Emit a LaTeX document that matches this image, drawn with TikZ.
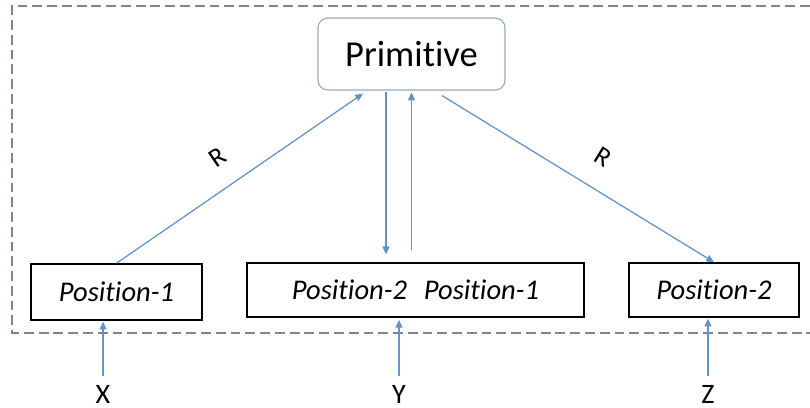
\documentclass[tikz,border=0pt]{standalone}
\usepackage{fontspec}
\setmainfont{Carlito}[Ligatures=NoCommon]
\usetikzlibrary{arrows.meta,calc}
\definecolor{lienbleu}{RGB}{98,148,198}
\definecolor{cadregris}{RGB}{120,134,150}
\definecolor{primgris}{RGB}{150,170,190}
\def\pxl{0.025cm}
\begin{document}
\begin{tikzpicture}[x=\pxl,y=-\pxl,
  boite/.style={draw=black,line width=1.1pt,inner sep=0pt,font=\fontsize{20.3}{24}\selectfont\itshape},
  lien/.style={draw=lienbleu,line width=0.9pt,-{Triangle[length=5.5pt,width=5pt]}},
  lettre/.style={inner sep=0pt,font=\fontsize{20}{24}\selectfont},
  etiq/.style={inner sep=0pt,font=\fontsize{19}{22}\selectfont}]
\useasboundingbox (0,0) rectangle (810,408);

% Cadre
\draw[cadregris,line width=0.8pt,dash pattern=on 7pt off 3.5pt] (810,6) -- (12,6) -- (12,333) -- (810,333);

% Boites
\node[draw=primgris,line width=0.8pt,rounded corners=7pt,minimum width=187*\pxl,minimum height=72*\pxl,font=\fontsize{26}{30}\selectfont] (prim) at (411.5,54) {Primitive};
\node[boite,minimum width=171*\pxl,minimum height=56*\pxl] (pos1) at (116.5,292) {Position-1};
\node[boite,minimum width=337*\pxl,minimum height=54*\pxl] (pos21) at (415.5,290) {Position-2\hspace{12pt}Position-1};
\node[boite,minimum width=170*\pxl,minimum height=54*\pxl] (pos2) at (714,290) {Position-2};

% Entrees
\node[lettre] (entX) at (103,394) {X};
\node[lettre] (entY) at (399,394) {Y};
\node[lettre] (entZ) at (708,394) {Z};

% Liens
\draw[lien] (pos1.north) -- ($(prim.south)+(-48.5,3)$) node[etiq,pos=0.48,sloped,above=15pt] (r1) {R};
\draw[lien,shorten >=5.7pt] ($(prim.south)+(-25.5,1)$) coordinate (d1) -- (d1 |- pos21.north);
\draw[lien,shorten <=8.5pt,shorten >=1.4pt] (prim.south |- pos21.north) -- (prim.south);
\draw[lien] ($(prim.south)+(30.5,5)$) -- (pos2.north) node[etiq,pos=0.53,sloped,above=16pt] (r2) {R};

\draw[lien,shorten <=6pt,shorten >=0.7pt] (entX.north) -- (entX.north |- pos1.south);
\draw[lien,shorten <=6pt,shorten >=1.5pt] (entY.north) -- (entY.north |- pos21.south);
\draw[lien,shorten <=6pt,shorten >=0.7pt] (entZ.north) -- (entZ.north |- pos2.south);

\end{tikzpicture}
\end{document}
